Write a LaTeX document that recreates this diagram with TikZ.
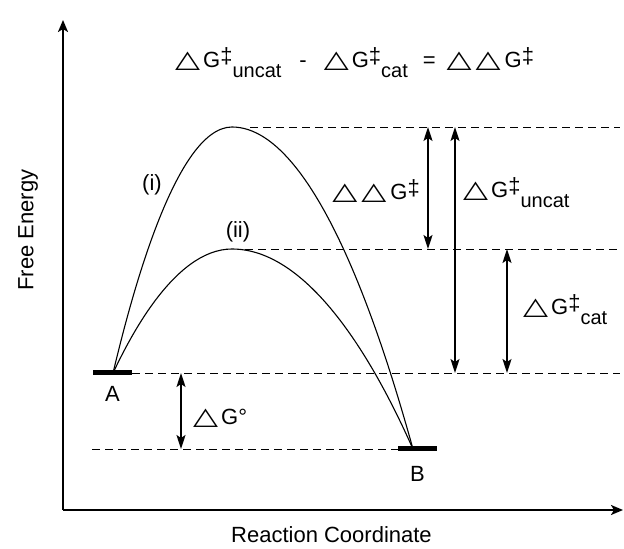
\documentclass[tikz,border=0pt]{standalone}
\usepackage{fontspec}
\usepackage{graphicx}
\setmainfont{Liberation Sans}
\newfontfamily\trifont{DejaVu Sans}
\usetikzlibrary{positioning, arrows.meta}

\newcommand{\tri}{\resizebox{25pt}{15.5pt}{\trifont\char"25B3}}
\newcommand{\dG}{\tri\hspace{3pt}G}
\newcommand{\dagsup}{\raisebox{4.5pt}{‡}}
\newcommand{\sublbl}[1]{\raisebox{-10pt}{\fontsize{20}{22}\selectfont #1}}

\tikzset{
  enlevel/.style={line width=0.9pt, dash pattern=on 8pt off 5pt},
  barnode/.style={fill=black, inner sep=0pt, minimum width=39pt, minimum height=5pt},
  diffarrow/.style={{Stealth[length=14pt,width=9pt,inset=3pt]}-{Stealth[length=14pt,width=9pt,inset=3pt]}, line width=1.7pt},
  axisline/.style={-{Stealth[length=12pt,width=10pt,inset=3pt]}, line width=2.2pt},
  lbl/.style={font=\fontsize{22}{26}\selectfont, inner sep=0pt},
  dlbl/.style={font=\fontsize{22}{26}\selectfont, inner sep=0pt},
}

\begin{document}
\begin{tikzpicture}[x=1pt, y=1pt]
  \useasboundingbox (0,0) rectangle (624,549);

  % axes
  \coordinate (O) at (63,39);
  \coordinate (ytop) at (63,529);
  \coordinate (xend) at (623,39);
  \draw[axisline] (O) -- (ytop);
  \draw[axisline] (O) -- (xend);
  \node[lbl, rotate=90] (yname) at (28,319) {Free Energy};
  \node[lbl, anchor=base west] (xname) at (231,6) {Reaction Coordinate};

  % ground states and transition states
  \node[barnode] (Abar) at (112.5,176) {};
  \node[barnode] (Bbar) at (417.5,100) {};
  \node[lbl, below=10pt of Abar] (Alab) {A};
  \node[lbl, below=14pt of Bbar] (Blab) {B};
  \coordinate (A) at (113,176);
  \coordinate (B) at (413,100);
  \coordinate (TSi) at (232,422);
  \coordinate (TSii) at (232,300);

  % energy levels
  \coordinate (TSiend) at (620,422);
  \coordinate (TSiiend) at (620,300);
  \coordinate (Aend) at (620,176);
  \coordinate (Bstart) at (92,100);
  \draw[enlevel] (250,422) -- (TSiend);
  \draw[enlevel] (245,300) -- (TSiiend);
  \draw[enlevel] (Abar.east) -- (Aend);
  \draw[enlevel] (Bstart) -- (Bbar.west);

  % reaction paths
  \draw[line width=1.1pt] (A) parabola bend (TSi) (B);
  \draw[line width=1.1pt] (A) parabola bend (TSii) (B);
  \node[lbl] (pi) at (152,364) {(i)};
  \node[lbl] (pii) at (238,317) {(ii)};

  % energy differences
  \coordinate (c0) at (181,0);
  \coordinate (c1) at (428,0);
  \coordinate (c2) at (455,0);
  \coordinate (c3) at (507,0);
  \draw[diffarrow] (c0 |- Abar) -- (c0 |- Bbar);
  \draw[diffarrow] (c1 |- TSi) -- (c1 |- TSii);
  \draw[diffarrow] (c2 |- TSi) -- (c2 |- Abar);
  \draw[diffarrow] (c3 |- TSii) -- (c3 |- Abar);
  \node[dlbl, anchor=base west] (dG0) at (193,124) {\dG°};
  \node[dlbl, anchor=base east] (ddG) at (420,349) {\tri\hspace{4pt}\tri\hspace{4pt}G\dagsup};
  \node[dlbl, anchor=base west] (dGu) at (463,351) {\dG\dagsup\sublbl{uncat}};
  \node[dlbl, anchor=base west] (dGc) at (523,234) {\dG\dagsup\sublbl{cat}};

  \node[dlbl, anchor=base west] (eqn) at (175,481)
    {\dG\dagsup\sublbl{uncat}\hspace{18pt}-\hspace{17pt}\dG\dagsup\sublbl{cat}\hspace{15pt}=\hspace{11pt}\tri\hspace{4pt}\tri\hspace{4pt}G\dagsup};
\end{tikzpicture}
\end{document}
